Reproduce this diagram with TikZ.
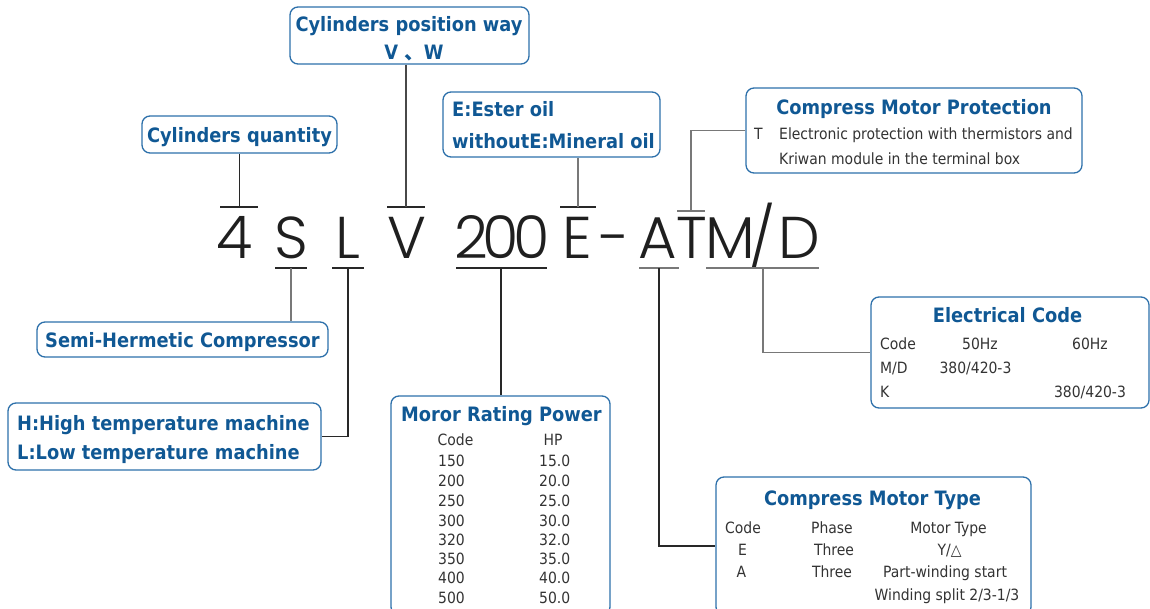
\documentclass[tikz,border=0pt]{standalone}
\usepackage{fontspec}
\setmainfont{DejaVu Sans Condensed}
\newfontfamily\bigfont{Poppins Light}
\newfontfamily\cjk{Noto Sans CJK SC}
\definecolor{ttl}{RGB}{16,88,148}
\definecolor{bdr}{RGB}{45,112,170}
\definecolor{txt}{RGB}{51,51,51}
\definecolor{ln}{RGB}{40,40,40}
\definecolor{lng}{RGB}{120,120,120}
\begin{document}
\begin{tikzpicture}[x=1pt,y=-1pt,
 box/.style={draw=bdr, line width=1.3pt, rounded corners=8pt, inner sep=0pt},
 title/.style={text=ttl, font=\fontsize{19.8}{22}\selectfont\bfseries, anchor=base, inner sep=0pt},
 titlew/.style={title, anchor=base west},
 body/.style={text=txt, font=\fontsize{15.5}{18}\selectfont, anchor=base, inner sep=0pt},
 bodyw/.style={body, anchor=base west},
 big/.style={font=\bigfont\fontsize{59}{60}\selectfont, text=black!88, anchor=base, inner sep=0pt},
 conn/.style={line width=1.1pt, draw=ln},
 conng/.style={line width=1.1pt, draw=lng},
 connm/.style={line width=1.1pt, draw=ln!60!lng},
]
\useasboundingbox (0,0) rectangle (1150,609);

% ---- code letters
\node[big] (c4) at (235,259) {4};
\node[big] (cS) at (291,259) {S};
\node[big] (cL) at (348,259) {L};
\node[big] (cV) at (406.5,259) {V};
\node[big] (c2) at (471,259) {2};
\node[big] (c0a) at (501,259) {0};
\node[big] (c0b) at (532,259) {0};
\node[big] (cE) at (577.5,259) {E};
\node[big] (cdash) at (615,259) {-};
\node[big] (cA) at (658,259) {A};
\node[big] (cT) at (692,259) {T};
\node[big] (cM) at (730,259) {M};
\node[big] (cslash) at (762,259) {/};
\node[big] (cD) at (799.5,259) {D};

% ---- boxes
\node[box, minimum width=195pt, minimum height=37pt] (bq) at (239.5,134.5) {};
\node[box, minimum width=239pt, minimum height=57pt] (bp) at (409.5,35.5) {};
\node[box, minimum width=217pt, minimum height=65pt] (be) at (551.5,124.5) {};
\node[box, minimum width=336pt, minimum height=85pt] (bmp) at (914,130.5) {};
\node[box, minimum width=291pt, minimum height=35pt] (bsh) at (182.5,339.5) {};
\node[box, minimum width=313pt, minimum height=67pt] (bhl) at (164.5,436.5) {};
\node[box, minimum width=219pt, minimum height=219pt] (bmr) at (500.5,505.5) {};
\node[box, minimum width=315pt, minimum height=138pt] (bmt) at (873.5,546) {};
\node[box, minimum width=278pt, minimum height=111pt] (bec) at (1010,352.5) {};

% ---- box texts
\node[title] (tq) at (239.5,142.5) {Cylinders quantity};
\node[title] (tp1) at (409,32) {Cylinders position way};
\node[title] (tp2) at (414,60) {V\hspace{6pt}{\cjk 、}W};
\node[titlew] (te1) at (452,117) {E:Ester oil};
\node[titlew] (te2) at (452,149) {withoutE:Mineral oil};

\node[title] (tmp) at (914,115) {Compress Motor Protection};
\node[bodyw] (tmpT) at (754,140) {T};
\node[bodyw] (tmp1) at (779,140) {Electronic protection with thermistors and};
\node[bodyw] (tmp2) at (779,165) {Kriwan module in the terminal box};

\node[title] (tec) at (1007.5,323) {Electrical Code};
\node[bodyw] (tec1) at (880,349) {Code};
\node[body] (tec2) at (980,349) {50Hz};
\node[body] (tec3) at (1090,349) {60Hz};
\node[bodyw] (tec4) at (880,373) {M/D};
\node[body] (tec5) at (975.5,373) {380/420-3};
\node[bodyw] (tec6) at (880,397) {K};
\node[body] (tec7) at (1090,397) {380/420-3};

\node[title] (tsh) at (182.5,347) {Semi-Hermetic Compressor};
\node[titlew] (thl1) at (17,430) {H:High temperature machine};
\node[titlew] (thl2) at (17,459) {L:Low temperature machine};

\node[title] (tmr) at (501.5,421) {Moror Rating Power};
\node[body] (tmrc) at (455.5,445) {Code};
\node[body] (tmrh) at (553,445) {HP};
\foreach \c/\h/\y [count=\i] in {150/15.0/466,200/20.0/486.5,250/25.0/506,300/30.0/526,320/32.0/545.5,350/35.0/564.5,400/40.0/583.5,500/50.0/603}{
  \node[bodyw] (mrc\i) at (438,\y) {\c};
  \node[bodyw] (mrh\i) at (539,\y) {\h};
}

\node[title] (tmt) at (872.5,505) {Compress Motor Type};
\node[body] (tmt1) at (743,533) {Code};
\node[body] (tmt2) at (832,533) {Phase};
\node[body] (tmt3) at (948.5,533) {Motor Type};
\node[body] (tmt4) at (742.5,555) {E};
\node[body] (tmt5) at (834,555) {Three};
\node[body] (tmt6) at (949.5,555) {Y/△};
\node[body] (tmt7) at (741.5,577) {A};
\node[body] (tmt8) at (832,577) {Three};
\node[body] (tmt9) at (945,577) {Part-winding start};
\node[body] (tmt10) at (947,600) {Winding split 2/3-1/3};

% ---- top bars and connectors
\coordinate (b4l) at (220,207); \coordinate (b4r) at (258,207); \coordinate (b4m) at (239.5,207);
\draw[conn] (b4l) -- (b4r);
\draw[conn] (bq.south) -- (b4m);

\coordinate (bVl) at (387,207); \coordinate (bVr) at (425,207); \coordinate (bVm) at (406,207);
\draw[conn] (bVl) -- (bVr);
\draw[connm] (bVm |- bp.south) -- (bVm);

\coordinate (bEl) at (560,207); \coordinate (bEr) at (596,207); \coordinate (bEm) at (578,207);
\draw[conn] (bEl) -- (bEr);
\draw[conng] (bEm |- be.south) -- (bEm);

\coordinate (bTl) at (677,211); \coordinate (bTr) at (705,211); \coordinate (bTm) at (691,211);
\draw[conng] (bTl) -- (bTr);
\draw[conng] (bmp.west) -| (bTm);

% ---- bottom bars and connectors
\coordinate (uSl) at (275,268); \coordinate (uSr) at (307,268); \coordinate (uSm) at (291,268);
\draw[conn] (uSl) -- (uSr);
\draw[conng] (uSm) -- (uSm |- bsh.north);

\coordinate (uLl) at (332,268); \coordinate (uLr) at (364,268); \coordinate (uLm) at (348,268);
\draw[conn] (uLl) -- (uLr);
\draw[conn] (uLm) |- (bhl.east);

\coordinate (u2l) at (456,268); \coordinate (u2r) at (547,268); \coordinate (u2m) at (501,268);
\draw[conn] (u2l) -- (u2r);
\draw[conn] (u2m) -- (u2m |- bmr.north);

\coordinate (uAl) at (639,268); \coordinate (uAr) at (679,268); \coordinate (uAm) at (659,268);
\draw[conng] (uAl) -- (uAr);
\draw[conn] (uAm) |- (bmt.west);

\coordinate (uMl) at (706,268); \coordinate (uMr) at (819,268); \coordinate (uMm) at (763,268);
\draw[conng] (uMl) -- (uMr);
\draw[conng] (uMm) |- (bec.west);
\end{tikzpicture}
\end{document}
